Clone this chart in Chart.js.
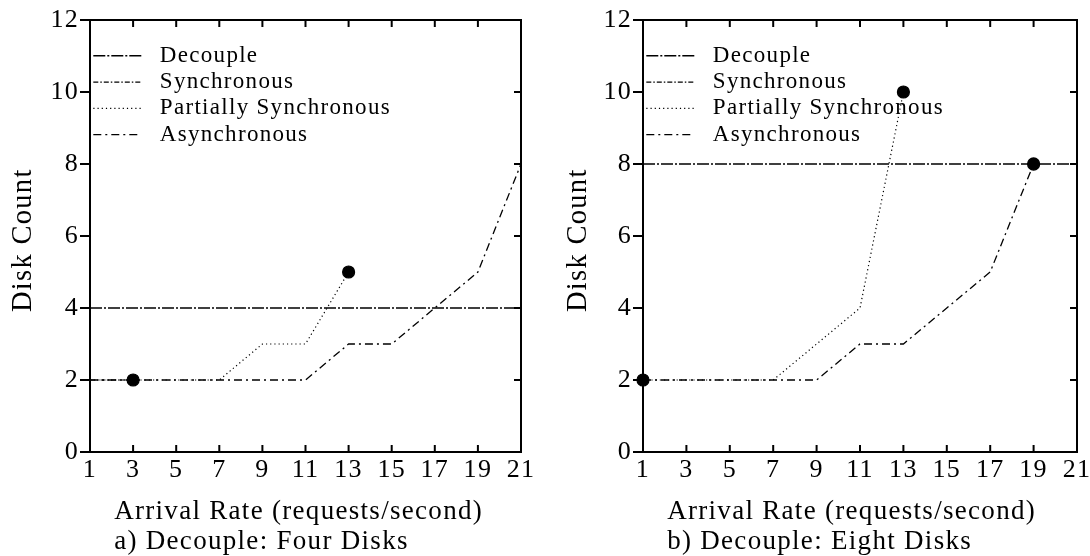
<!DOCTYPE html>
<html>
<head>
<meta charset="utf-8">
<script src="https://cdn.jsdelivr.net/npm/chart.js@4.4.1/dist/chart.umd.min.js"></script>
<style>
    html, body { margin: 0; padding: 0; background: #fff; }
    #wrap { position: relative; width: 1090px; height: 556px; }
    canvas { position: absolute; top: 0; }
    #chartA { left: 0; }
    #chartB { left: 545px; }
</style>
</head>
<body>
<div id="wrap">
    <canvas id="chartA" width="545" height="556"></canvas>
    <canvas id="chartB" width="545" height="556"></canvas>
</div>
<script>
// Axis ticks
const rateTicks = [1, 3, 5, 7, 9, 11, 13, 15, 17, 19, 21];
const seriesNames = ['Decouple', 'Synchronous', 'Partially Synchronous', 'Asynchronous'];

// a) Decouple: Four Disks
const decoupleRatesA = [1, 3, 5, 7, 9, 11, 13, 15, 17, 19, 21];
const decoupleA = [4, 4, 4, 4, 4, 4, 4, 4, 4, 4, 4];
const syncRatesA = [1, 3];
const syncA = [2, 2];
const partialRatesA = [1, 3, 5, 7, 9, 11, 13];
const partialA = [2, 2, 2, 2, 3, 3, 5];
const asyncRatesA = [1, 3, 5, 7, 9, 11, 13, 15, 17, 19, 21];
const asyncA = [2, 2, 2, 2, 2, 2, 3, 3, 4, 5, 8];

// b) Decouple: Eight Disks
const decoupleRatesB = [1, 3, 5, 7, 9, 11, 13, 15, 17, 19, 21];
const decoupleB = [8, 8, 8, 8, 8, 8, 8, 8, 8, 8, 8];
const syncRatesB = [1];
const syncB = [2];
const partialRatesB = [1, 3, 5, 7, 9, 11, 13];
const partialB = [2, 2, 2, 2, 3, 4, 10];
const asyncRatesB = [1, 3, 5, 7, 9, 11, 13, 15, 17, 19];
const asyncB = [2, 2, 2, 2, 2, 3, 3, 4, 5, 8];

// which series end with a big dot
const endDotsA = [false, true, true, false];
const endDotsB = [false, true, true, true];

// line patterns, one per series
const dashes = [[12, 2, 2, 2], [5, 2, 1.5, 2], [1.2, 3], [8, 4, 2, 4]];
const widths = [1.5, 1.2, 1.2, 1.3];

Chart.defaults.font.family = '"Liberation Serif", "Times New Roman", serif';
Chart.defaults.color = '#000';

// wider letter spacing, closer to the original TeX fonts
const spacing = {
    id: 'spacing',
    beforeLayout(chart) { chart.ctx.letterSpacing = '1.3px'; },
    beforeDraw(chart) { chart.ctx.letterSpacing = '1.3px'; }
};

// place the legend a little below the top of the plot
const legendShift = {
    id: 'legendShift',
    afterLayout(chart) {
        const lg = chart.legend;
        lg.top = chart.chartArea.top + 21;
        lg.bottom = lg.top + lg.height;
    }
};

// box round the plot with inward ticks on bottom, top and right
const frame = {
    id: 'frame',
    afterDatasetsDraw(chart) {
        const { ctx, chartArea: { left, right, top, bottom }, scales: { x, y } } = chart;
        ctx.save();
        ctx.strokeStyle = '#000';
        ctx.lineWidth = 2;
        ctx.setLineDash([]);
        ctx.strokeRect(left, top, right - left, bottom - top);
        ctx.beginPath();
        x.ticks.forEach(t => {
            const px = x.getPixelForValue(t.value);
            ctx.moveTo(px, bottom);
            ctx.lineTo(px, bottom - 7);
            ctx.moveTo(px, top);
            ctx.lineTo(px, top + 7);
        });
        y.ticks.forEach(t => {
            const py = y.getPixelForValue(t.value);
            ctx.moveTo(right, py);
            ctx.lineTo(right - 7, py);
        });
        ctx.stroke();
        ctx.restore();
    }
};

function toPoints(xs, ys) {
    return xs.map((v, i) => ({ x: v, y: ys[i] }));
}

function makeChart(id, series, dots, caption, yWidth, yTitlePad, rightPad) {
    const ctx = document.getElementById(id).getContext('2d');

    const datasets = series.map((s, i) => ({
        label: seriesNames[i],
        data: toPoints(s[0], s[1]),
        borderColor: '#000',
        backgroundColor: '#000',
        borderWidth: widths[i],
        borderDash: dashes[i],
        pointRadius: c => (dots[i] && c.dataIndex === c.dataset.data.length - 1) ? 6 : 0,
        pointHoverRadius: 0,
        clip: false,
        tension: 0
    }));

    return new Chart(ctx, {
        type: 'line',
        data: { datasets: datasets },
        plugins: [spacing, legendShift, frame],
        options: {
            responsive: false,
            animation: false,
            layout: { padding: { top: 20, right: rightPad, bottom: 0, left: 0 } },
            plugins: {
                tooltip: { enabled: false },
                legend: {
                    position: 'chartArea',
                    align: 'start',
                    labels: {
                        usePointStyle: true,
                        pointStyle: 'line',
                        pointStyleWidth: 48,
                        padding: 3.3,
                        font: { size: 23 },
                        color: '#000',
                        generateLabels: chart =>
                            Chart.defaults.plugins.legend.labels.generateLabels(chart)
                                .map(l => ({
                                    ...l,
                                    text: ' ' + l.text,
                                    lineDash: dashes[l.datasetIndex],
                                    lineWidth: widths[l.datasetIndex],
                                    strokeStyle: '#000'
                                }))
                    }
                }
            },
            scales: {
                x: {
                    type: 'linear',
                    min: 1,
                    max: 21,
                    afterBuildTicks: scale => {
                        scale.ticks = rateTicks.map(v => ({ value: v }));
                    },
                    afterFit: scale => {
                        scale.height = 104;
                        scale.paddingLeft = 0;
                        scale.paddingRight = 0;
                    },
                    border: { display: true, color: '#000', width: 2 },
                    grid: { display: false, drawTicks: false },
                    ticks: { padding: 3, font: { size: 26 }, color: '#000' },
                    title: {
                        display: true,
                        align: 'start',
                        text: ['   Arrival Rate (requests/second)', '   ' + caption],
                        font: { size: 27, lineHeight: 1.11 },
                        padding: { top: 0, bottom: -1 },
                        color: '#000'
                    }
                },
                y: {
                    min: 0,
                    max: 12,
                    afterFit: scale => {
                        scale.width = yWidth;
                        scale.paddingTop = 0;
                        scale.paddingBottom = 0;
                    },
                    border: { display: true, color: '#000', width: 2 },
                    grid: { drawOnChartArea: false, drawTicks: true, tickLength: 10, color: '#000', lineWidth: 2 },
                    ticks: { stepSize: 2, padding: 1, font: { size: 26 }, color: '#000' },
                    title: {
                        display: true,
                        text: 'Disk Count ',
                        font: { size: 28.5, lineHeight: 1.2 },
                        padding: { top: yTitlePad, bottom: 0 },
                        color: '#000'
                    }
                }
            }
        }
    });
}

makeChart('chartA', [
    [decoupleRatesA, decoupleA],
    [syncRatesA, syncA],
    [partialRatesA, partialA],
    [asyncRatesA, asyncA]
], endDotsA, 'a) Decouple: Four Disks', 90, 6, 24);

makeChart('chartB', [
    [decoupleRatesB, decoupleB],
    [syncRatesB, syncB],
    [partialRatesB, partialB],
    [asyncRatesB, asyncB]
], endDotsB, 'b) Decouple: Eight Disks', 98, 16, 13);
</script>
</body>
</html>
